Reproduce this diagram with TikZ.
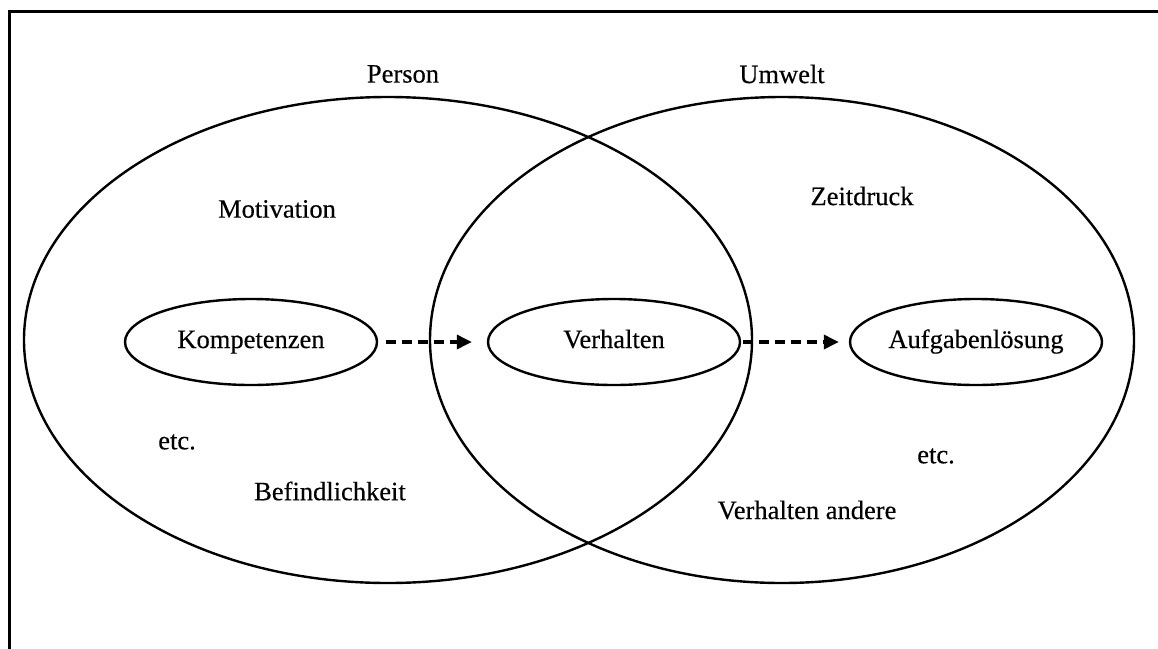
\documentclass[tikz,border=0pt]{standalone}
\usepackage{fontspec}
\setmainfont{Liberation Serif}[FakeBold=0.35]
\usetikzlibrary{shapes.geometric,arrows.meta}

\begin{document}
\begin{tikzpicture}[x=1pt,y=-1pt,
  lbl/.style={font=\fontsize{26.5}{30}\selectfont, inner sep=0pt},
  region/.style={draw, ellipse, line width=2.4pt, inner sep=0pt},
  item/.style={draw, ellipse, line width=2.4pt, inner sep=0pt,
    minimum width=252pt, minimum height=86pt,
    text height=18pt, text depth=6pt,
    font=\fontsize{26.5}{30}\selectfont},
  flow/.style={line width=3.4pt, dash pattern=on 10pt off 6pt,
    -{Triangle[length=15pt,width=14pt]}}
]
\useasboundingbox (0,0) rectangle (1158,648);
% outer frame (only top and left edges fall inside the page)
\draw[line width=3pt] (9,680) -- (9,11) -- (1190,11);

% the two overlapping domains
\node[region, minimum width=728pt, minimum height=486pt] (person) at (388,340) {};
\node[region, minimum width=704pt, minimum height=486pt] (umwelt) at (782,340) {};

\node[lbl] (personlbl) at (403,74) {Person};
\node[lbl] (umweltlbl) at (782,74) {Umwelt};

% central chain
\node[item] (komp) at (251,342) {Kompetenzen};
\node[item] (verh) at (614,342) {Verhalten};
\node[item] (aufg) at (976,342) {Aufgabenlösung};

\draw[flow, shorten <=8pt, shorten >=15pt] (komp.east) -- (verh.west);
\draw[flow, shorten <=2pt, shorten >=10pt] (verh.east) -- (aufg.west);

% further factors
\node[lbl] (motiv) at (277,209) {Motivation};
\node[lbl] (zeit) at (862,196) {Zeitdruck};
\node[lbl] (etcl) at (177,442) {etc.};
\node[lbl] (befind) at (330,491) {Befindlichkeit};
\node[lbl] (etcr) at (936,456) {etc.};
\node[lbl] (andere) at (807,510) {Verhalten andere};
\end{tikzpicture}
\end{document}
